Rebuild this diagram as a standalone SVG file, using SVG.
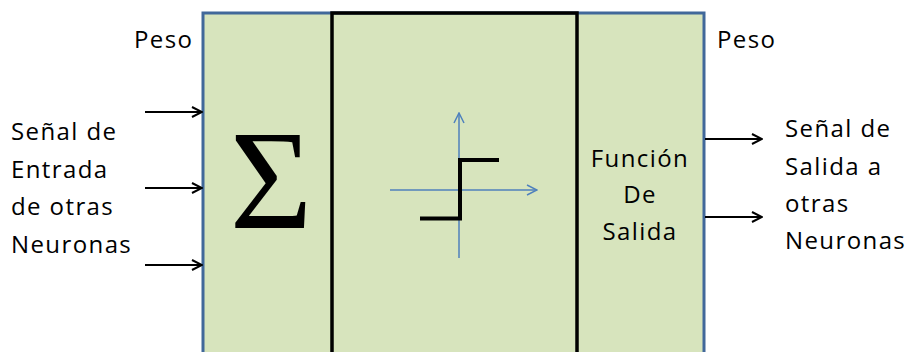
<svg xmlns="http://www.w3.org/2000/svg" width="912" height="352" viewBox="0 0 912 352">
<style>
.t{font-family:"Open Sans","Liberation Sans",sans-serif;font-size:24px;letter-spacing:1.4px;fill:#000}
.c{text-anchor:middle}
.conn{stroke:#000;stroke-width:2;fill:none}
.ax{stroke:#4f81bd;stroke-width:1.5;fill:none}
</style>
<defs>
<marker id="ah" viewBox="0 0 12 12" refX="11" refY="6" markerWidth="12" markerHeight="12" markerUnits="userSpaceOnUse" orient="auto">
<path d="M1,1 L11,6 L1,11" fill="none" stroke="#000" stroke-width="2"/>
</marker>
<marker id="axh" viewBox="0 0 12 12" refX="11" refY="6" markerWidth="12" markerHeight="12" markerUnits="userSpaceOnUse" orient="auto">
<path d="M1,1 L11,6 L1,11" fill="none" stroke="#4f81bd" stroke-width="1.5"/>
</marker>
</defs>
<g id="neuron">
<rect x="203" y="13" width="501" height="360" fill="#d7e4bd" stroke="#41689a" stroke-width="3"/>
</g>
<g id="sum">
<text x="271" y="228" font-family="'Liberation Serif',serif" font-size="142" text-anchor="middle" fill="#000">Σ</text>
</g>
<g id="activation">
<rect x="332" y="13" width="245" height="360" fill="none" stroke="#000" stroke-width="3.5"/>
<line class="ax" x1="390" y1="190" x2="537" y2="190" marker-end="url(#axh)"/>
<line class="ax" x1="459" y1="258" x2="459" y2="113" marker-end="url(#axh)"/>
<polyline points="420,218.5 460,218.5 460,160 499,160" fill="none" stroke="#000" stroke-width="4"/>
</g>
<g id="output-function">
<text class="t c" x="640" y="167">Función</text>
<text class="t c" x="640" y="203">De</text>
<text class="t c" x="640" y="240">Salida</text>
</g>
<g id="labels">
<text class="t" x="134" y="48">Peso</text>
<text class="t" x="717" y="48">Peso</text>
<text class="t" x="11" y="140">Señal de</text>
<text class="t" x="11" y="177.5">Entrada</text>
<text class="t" x="11" y="215">de otras</text>
<text class="t" x="11" y="253">Neuronas</text>
<text class="t" x="785" y="137">Señal de</text>
<text class="t" x="785" y="174.5">Salida a</text>
<text class="t" x="785" y="212">otras</text>
<text class="t" x="785" y="249">Neuronas</text>
</g>
<g id="connectors">
<line class="conn" x1="145" y1="112" x2="202" y2="112" marker-end="url(#ah)"/>
<line class="conn" x1="145" y1="188" x2="202" y2="188" marker-end="url(#ah)"/>
<line class="conn" x1="145" y1="265" x2="202" y2="265" marker-end="url(#ah)"/>
<line class="conn" x1="705" y1="139" x2="762" y2="139" marker-end="url(#ah)"/>
<line class="conn" x1="705" y1="217" x2="762" y2="217" marker-end="url(#ah)"/>
</g>
</svg>
